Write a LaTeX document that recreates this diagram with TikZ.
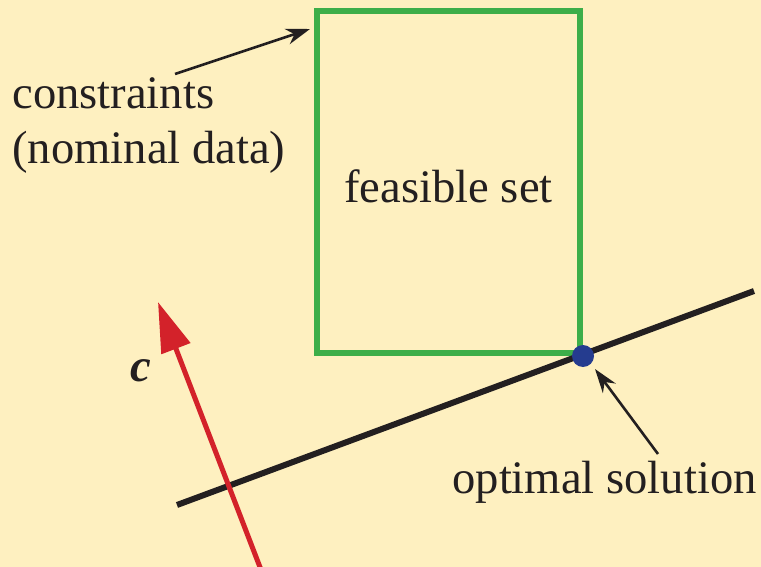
\documentclass[tikz,border=0pt]{standalone}
\usepackage{fontspec}
\setmainfont{Liberation Serif}
\usetikzlibrary{arrows.meta,calc,positioning}
\definecolor{myBG}{HTML}{FEF0C0}
\definecolor{myGREEN}{HTML}{3DAE49}
\definecolor{myRED}{HTML}{D3222A}
\definecolor{myBLUE}{HTML}{253C8F}
\definecolor{myBLACK}{HTML}{231F20}

\begin{document}
\begin{tikzpicture}[x=0.5pt, y=-0.5pt, font=\fontsize{23.3}{27.5}\selectfont, text=myBLACK,
    pointer/.style={myBLACK, line width=1.3pt, -{Stealth[length=12pt, width=8pt]}}]
    % Background
    \fill[myBG] (0,0) rectangle (761,567);
    \useasboundingbox (0,0) rectangle (761,567);

    % Nodes
    \node[draw=myGREEN, line width=3pt, minimum width=131.5pt, minimum height=171pt, inner sep=0pt, text height=21pt] (box) at (448.5,182) {feasible set};
    \node[align=left, anchor=base west, inner sep=0pt] (cons) at (12,163) {constraints\\(nominal data)};
    \node[anchor=base east, inner sep=0pt] (optlabel) at (757,493) {optimal solution};
    \node[inner sep=0pt] (clabel) at (141,371) {\textbf{\textit{c}}};

    % Objective line and cost vector
    \coordinate (lineA) at (177,505);
    \coordinate (lineB) at (754,291);
    \draw[myBLACK, line width=3pt] (lineA) -- (lineB);
    \coordinate (cBase) at (263,575);
    \coordinate (cTip) at (158,302);
    \draw[myRED, line width=2.5pt, -{Triangle[length=25pt, width=15pt]}] (cBase) -- (cTip);
    \node[circle, fill=myBLUE, minimum size=11pt, inner sep=0pt] (opt) at (box.south east) {};

    % Arrows
    \coordinate (consFrom) at (175,74);
    \coordinate (consTo) at (310,29);
    \draw[pointer] (consFrom) -- (consTo);
    \coordinate (optFrom) at (658,454);
    \draw[pointer] (optFrom) -- ($(opt)+(12,13)$);
\end{tikzpicture}
\end{document}
